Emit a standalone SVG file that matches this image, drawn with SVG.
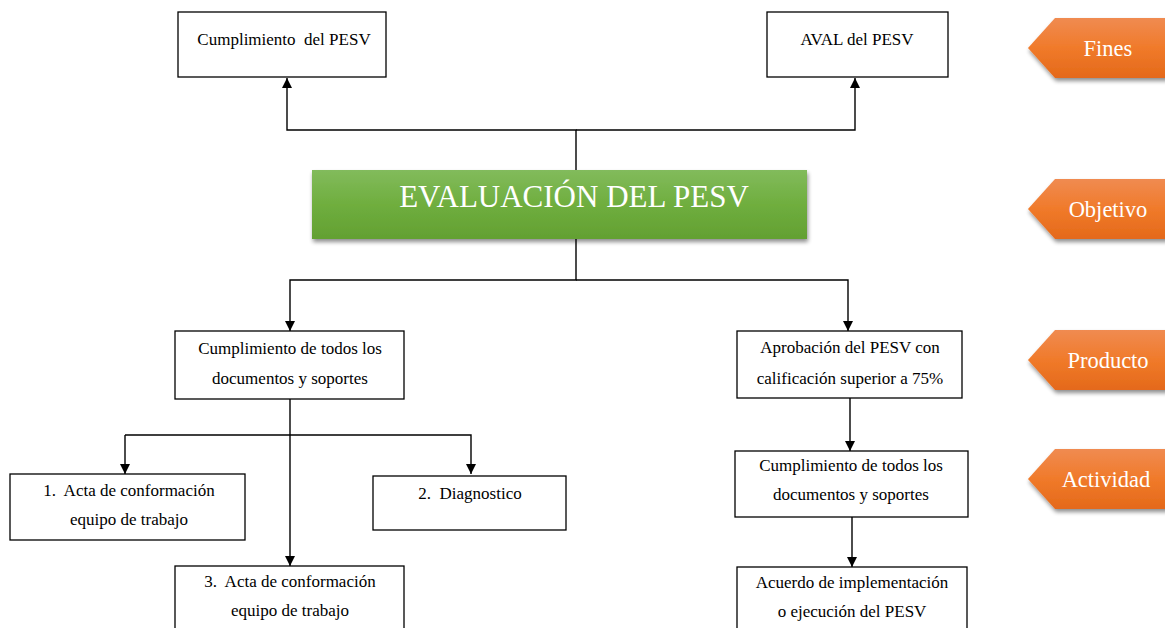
<svg xmlns="http://www.w3.org/2000/svg" width="1165" height="628" viewBox="0 0 1165 628">
<defs>
<linearGradient id="gGreen" x1="0" y1="0" x2="0" y2="1">
<stop offset="0" stop-color="#82bb5c"/><stop offset="0.5" stop-color="#6fae3e"/><stop offset="1" stop-color="#63a032"/>
</linearGradient>
<linearGradient id="gOrange" x1="0" y1="0" x2="0" y2="1">
<stop offset="0" stop-color="#f08b51"/><stop offset="0.5" stop-color="#f07a2a"/><stop offset="1" stop-color="#e4691a"/>
</linearGradient>
<filter id="sh" x="-10%" y="-20%" width="130%" height="150%">
<feGaussianBlur in="SourceAlpha" stdDeviation="2"/>
<feOffset dx="1" dy="3" result="b"/>
<feComponentTransfer><feFuncA type="linear" slope="0.45"/></feComponentTransfer>
<feMerge><feMergeNode/><feMergeNode in="SourceGraphic"/></feMerge>
</filter>
<marker id="ar" viewBox="0 0 10 10" refX="10" refY="5" markerWidth="10" markerHeight="10" markerUnits="userSpaceOnUse" orient="auto">
<path d="M0,0 L10,5 L0,10 z" fill="#000"/>
</marker>
</defs>
<style>
.box{fill:#fff;stroke:#000;stroke-width:1.3}
.t{font-family:"Liberation Serif","Times New Roman",serif;font-size:17px;fill:#000;text-anchor:middle;white-space:pre}
.tag{font-family:"Liberation Serif","Times New Roman",serif;font-size:22.5px;fill:#fff;text-anchor:middle}
.ln{fill:none;stroke:#000;stroke-width:1.4}
</style>
<rect width="1165" height="628" fill="#fff"/>

<g id="connectors">
<path class="ln" d="M576,170 V130 H287 V78" marker-end="url(#ar)"/>
<path class="ln" d="M576,130 H855 V78" marker-end="url(#ar)"/>
<path class="ln" d="M576,239 V280 H290 V331" marker-end="url(#ar)"/>
<path class="ln" d="M576,280 H848 V331" marker-end="url(#ar)"/>
<path class="ln" d="M290,399 V566" marker-end="url(#ar)"/>
<path class="ln" d="M125,435 H471 V474" marker-end="url(#ar)"/>
<path class="ln" d="M125,435 V474" marker-end="url(#ar)"/>
<path class="ln" d="M850,398 V451" marker-end="url(#ar)"/>
<path class="ln" d="M852,517 V567" marker-end="url(#ar)"/>
</g>

<g id="n-cumplimiento-pesv">
<rect class="box" x="178" y="12" width="208" height="65"/>
<text class="t" x="284" y="45" xml:space="preserve">Cumplimiento  del PESV</text>
</g>
<g id="n-aval">
<rect class="box" x="767" y="12" width="181" height="65"/>
<text class="t" x="857" y="45">AVAL del PESV</text>
</g>
<g id="n-evaluacion">
<rect x="312" y="170" width="495" height="69" fill="url(#gGreen)" filter="url(#sh)"/>
<text x="574" y="207" style="font-family:'Liberation Serif','Times New Roman',serif;font-size:31px;fill:#fff;text-anchor:middle">EVALUACIÓN DEL PESV</text>
</g>
<g id="n-cumplimiento-docs">
<rect class="box" x="175" y="331" width="229" height="68"/>
<text class="t" x="290" y="354">Cumplimiento de todos los</text>
<text class="t" x="290" y="384">documentos y soportes</text>
</g>
<g id="n-aprobacion">
<rect class="box" x="737" y="331" width="225" height="67"/>
<text class="t" x="850" y="353">Aprobación del PESV con</text>
<text class="t" x="850" y="384">calificación superior a 75%</text>
</g>
<g id="n-acta1">
<rect class="box" x="10" y="474" width="235" height="66"/>
<text class="t" x="129" y="496" xml:space="preserve">1.  Acta de conformación</text>
<text class="t" x="129" y="525">equipo de trabajo</text>
</g>
<g id="n-diagnostico">
<rect class="box" x="373" y="476" width="193" height="54"/>
<text class="t" x="470" y="499" xml:space="preserve">2.  Diagnostico</text>
</g>
<g id="n-acta3">
<rect class="box" x="175" y="566" width="229" height="70"/>
<text class="t" x="290" y="587" xml:space="preserve">3.  Acta de conformación</text>
<text class="t" x="290" y="616">equipo de trabajo</text>
</g>
<g id="n-cumplimiento-docs2">
<rect class="box" x="735" y="451" width="233" height="66"/>
<text class="t" x="851" y="471">Cumplimiento de todos los</text>
<text class="t" x="851" y="500">documentos y soportes</text>
</g>
<g id="n-acuerdo">
<rect class="box" x="737" y="567" width="230" height="70"/>
<text class="t" x="852" y="588">Acuerdo de implementación</text>
<text class="t" x="852" y="617">o ejecución del PESV</text>
</g>

<g id="tag-fines">
<path d="M1028,48 L1055,18 H1170 V78 H1055 Z" fill="url(#gOrange)" filter="url(#sh)"/>
<text class="tag" x="1108" y="56">Fines</text>
</g>
<g id="tag-objetivo">
<path d="M1028,209 L1055,179 H1170 V239 H1055 Z" fill="url(#gOrange)" filter="url(#sh)"/>
<text class="tag" x="1108" y="217">Objetivo</text>
</g>
<g id="tag-producto">
<path d="M1028,360 L1055,330 H1170 V390 H1055 Z" fill="url(#gOrange)" filter="url(#sh)"/>
<text class="tag" x="1108" y="368">Producto</text>
</g>
<g id="tag-actividad">
<path d="M1028,479 L1055,449 H1170 V509 H1055 Z" fill="url(#gOrange)" filter="url(#sh)"/>
<text class="tag" x="1106" y="487">Actividad</text>
</g>
</svg>
